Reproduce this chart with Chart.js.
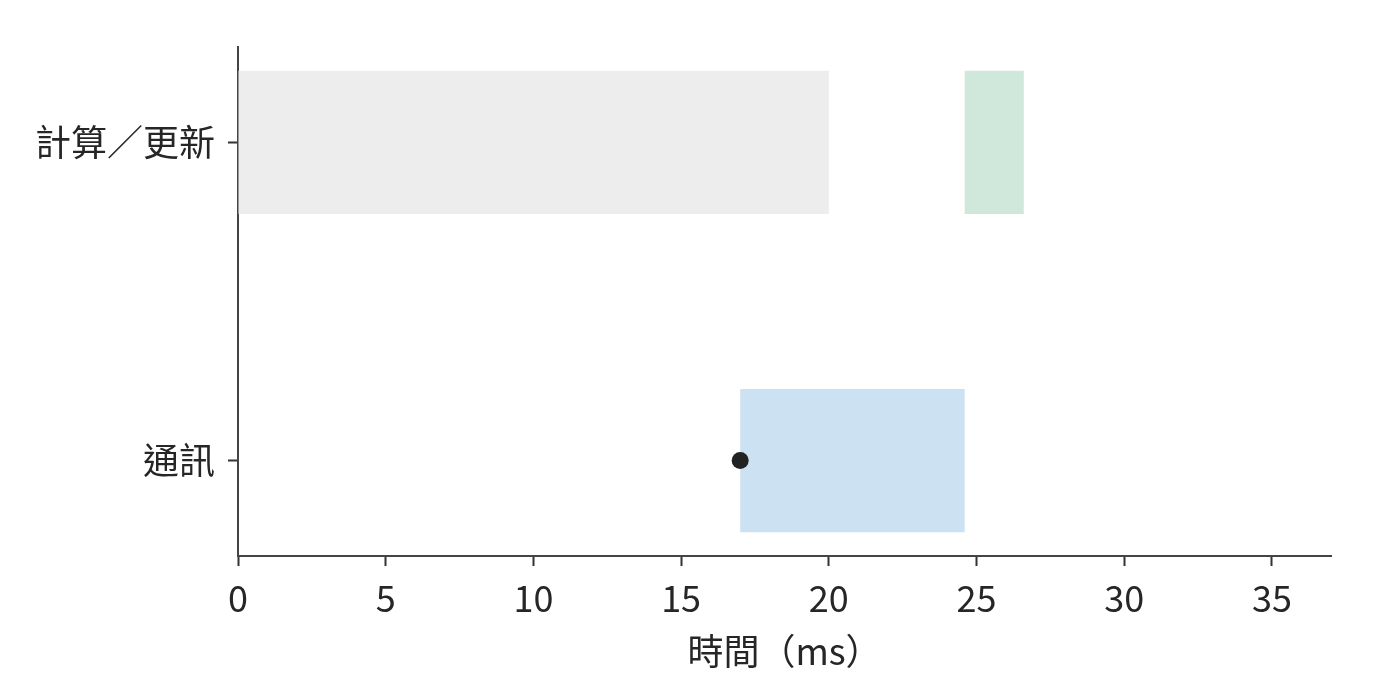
<!DOCTYPE html>
<html>
<head>
<meta charset="utf-8">
<script src="https://cdn.jsdelivr.net/npm/chart.js@4"></script>
<style>
  body { margin: 0; background: #fff; }
  #wrap { width: 1400px; height: 696px; }
</style>
</head>
<body>
<div id="wrap"><canvas id="chart1" width="1400" height="696"></canvas></div>
<script>
// rows on the y axis (index = y value)
var categories = ['通訊', '計算／更新'];
// x tick labels
var xTicks = [0, 5, 10, 15, 20, 25, 30, 35];
// spans in ms: [start, end]
var computeSpan = [0, 20];
var updateSpan = [24.6, 26.6];
var commSpan = [17, 24.6];
// start marker of the communication
var commStart = [17];

var textColor = '#262626';
var axisColor = '#444444';
var font = 'Noto Sans CJK TC';

var ctx = document.getElementById('chart1');
var myChart = new Chart(ctx, {
    type: 'bar',
    data: {
        datasets: [
            {
                label: '計算',
                data: [{ x: computeSpan, y: 1 }],
                backgroundColor: '#ededed',
                order: 3
            },
            {
                label: '更新',
                data: [{ x: updateSpan, y: 1 }],
                backgroundColor: '#d0e8db',
                order: 3
            },
            {
                label: '通訊',
                data: [{ x: commSpan, y: 0 }],
                backgroundColor: '#cce2f2',
                order: 2
            },
            {
                type: 'scatter',
                label: '開始',
                data: commStart.map(function (v) { return { x: v, y: 0 }; }),
                backgroundColor: '#222222',
                borderWidth: 0,
                pointRadius: 8.5,
                order: 1
            }
        ]
    },
    options: {
        indexAxis: 'y',
        responsive: false,
        animation: false,
        devicePixelRatio: 1,
        grouped: false,
        categoryPercentage: 1,
        barPercentage: 0.45,
        layout: { padding: { top: 47, right: 69, bottom: 0, left: 0 } },
        plugins: {
            legend: { display: false },
            tooltip: { enabled: false }
        },
        scales: {
            x: {
                type: 'linear',
                min: 0,
                max: 37,
                afterBuildTicks: function (scale) {
                    scale.ticks = xTicks.map(function (v) { return { value: v }; });
                },
                afterFit: function (scale) { scale.height = 140; },
                border: { display: true, color: axisColor, width: 2 },
                grid: { display: true, drawOnChartArea: false, drawTicks: true, tickLength: 10, tickColor: '#333333', tickWidth: 2 },
                ticks: { color: textColor, padding: 11, font: { family: font, size: 36 }, maxRotation: 0 },
                title: {
                    display: true,
                    text: '時間（ms）',
                    color: textColor,
                    font: { family: font, size: 36 },
                    padding: { top: 0, bottom: 23 }
                }
            },
            y: {
                type: 'linear',
                min: -0.3,
                max: 1.3,
                offset: false,
                afterBuildTicks: function (scale) {
                    scale.ticks = categories.map(function (c, i) { return { value: i }; });
                },
                afterFit: function (scale) { scale.width = 238; },
                border: { display: true, color: axisColor, width: 2 },
                grid: { display: true, offset: false, drawOnChartArea: false, drawTicks: true, tickLength: 10, tickColor: '#333333', tickWidth: 2 },
                ticks: {
                    color: textColor,
                    padding: 13,
                    font: { family: font, size: 36 },
                    callback: function (value) { return categories[value]; }
                }
            }
        }
    }
});
</script>
</body>
</html>
